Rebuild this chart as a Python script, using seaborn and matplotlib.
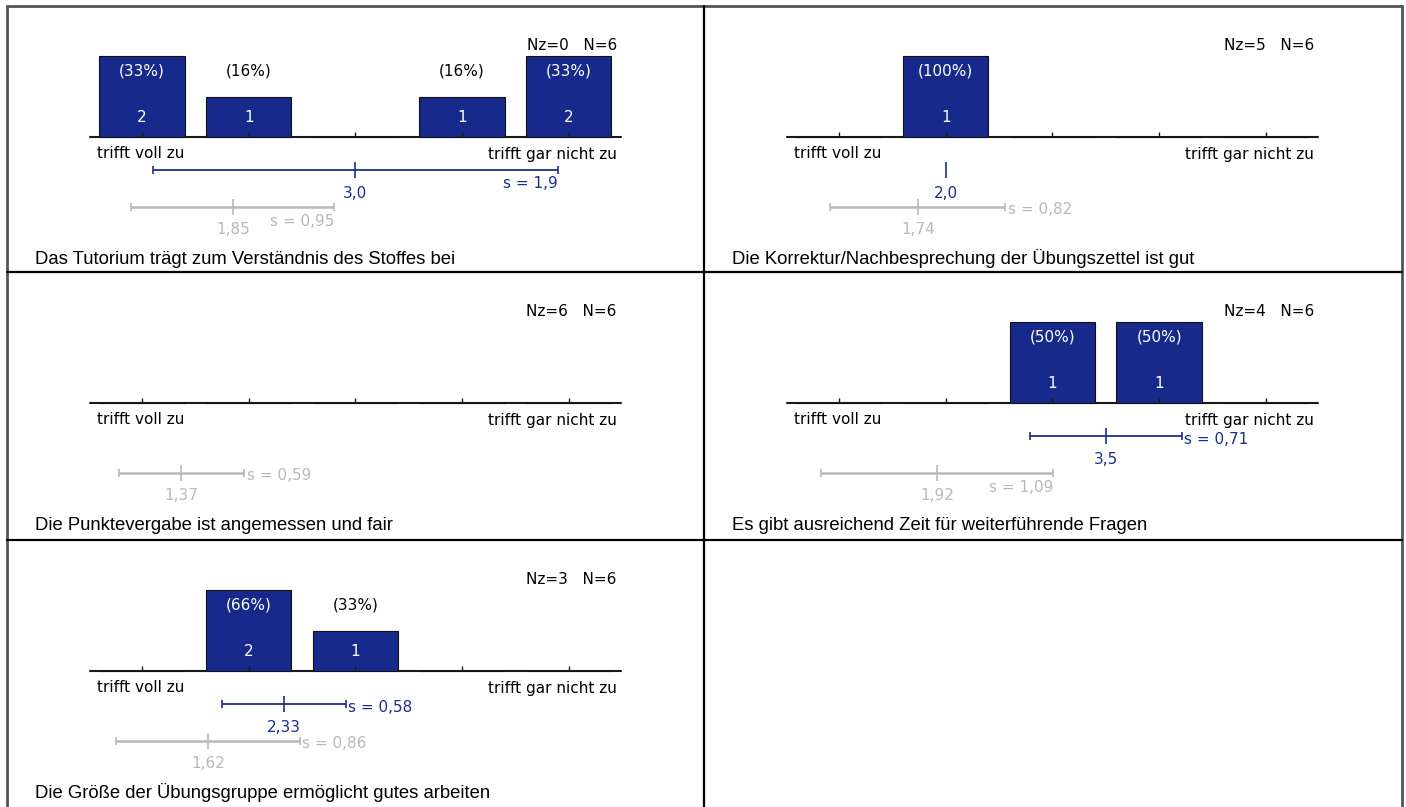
import numpy as np
import pandas as pd
import matplotlib.pyplot as plt
import seaborn as sns

# answer categories (1 = trifft voll zu ... 5 = trifft gar nicht zu)
categories = [1, 2, 3, 4, 5]
titles = [
    'Das Tutorium trägt zum Verständnis des Stoffes bei',
    'Die Korrektur/Nachbesprechung der Übungszettel ist gut',
    'Die Punktevergabe ist angemessen und fair',
    'Es gibt ausreichend Zeit für weiterführende Fragen',
    'Die Größe der Übungsgruppe ermöglicht gutes arbeiten',
]
counts = [
    [2, 1, 0, 1, 2],
    [0, 1, 0, 0, 0],
    [0, 0, 0, 0, 0],
    [0, 0, 1, 1, 0],
    [0, 2, 1, 0, 0],
]
n_missing = [0, 5, 6, 4, 3]
n_total = [6, 6, 6, 6, 6]
mean_blue = [3.0, 2.0, None, 3.5, 2.33]
sd_blue = [1.9, None, None, 0.71, 0.58]
mean_grey = [1.85, 1.74, 1.37, 1.92, 1.62]
sd_grey = [0.95, 0.82, 0.59, 1.09, 0.86]
left_label = 'trifft voll zu'
right_label = 'trifft gar nicht zu'

BAR = '#172a8b'
BLUE = '#1d2d8f'
GREY = '#b9b9b9'
FS = 11

# layout in pixels
W, H = 1406, 807
col_x = [7, 704]
col_w = [697, 698]
row_top = [6, 272, 540]
row_bot = [272, 540, 807]
BASE = 131      # baseline below top of cell
X0 = 135        # centre of first category from cell left
STEP = 106.7    # pixels per category
BAR_H = 81      # height of the tallest bar

sns.set_style('white')
plt.rcParams['font.family'] = ['DejaVu Sans']
plt.rcParams['text.color'] = 'black'

fig = plt.figure(figsize=(W / 100, H / 100), dpi=100)


def fmt(v):
    s = f'{v:.2f}'
    if s.endswith('0'):
        s = s[:-1]
    return s.replace('.', ',')


def draw_stat(ax, mean, sd, y, color, lw, other_mean=None):
    xm = mean - 1
    if sd:
        ax.plot([xm - sd, xm + sd], [y, y], color=color, lw=lw, solid_capstyle='butt')
        ax.vlines([xm - sd, xm + sd], y - 4, y + 4, color=color, lw=1.2)
    ax.vlines(xm, y - 8, y + 8, color=color, lw=1.2)
    ax.text(xm, y - 23, fmt(mean), ha='center', va='center', color=color, fontsize=FS)
    if sd:
        right = mean + sd
        below = right + 0.65 > 5.5
        if other_mean is not None and right < other_mean < right + 0.75:
            below = True
        if below:
            ax.text(xm + sd, y - 14, f's = {fmt(sd)}', ha='right', va='center', color=color, fontsize=FS)
        else:
            ax.text(xm + sd + 0.02, y - 3, f's = {fmt(sd)}', ha='left', va='center', color=color, fontsize=FS)


for i in range(len(titles)):
    r, c = divmod(i, 2)
    left, width = col_x[c], col_w[c]
    top, bot = row_top[r], row_bot[r]
    ax = fig.add_axes([left / W, 1 - bot / H, width / W, (bot - top) / H])

    cnt = np.array(counts[i])
    valid = cnt.sum()
    heights = cnt / max(cnt.max(), 1) * BAR_H
    df = pd.DataFrame({'cat': categories, 'h': heights})
    sns.barplot(data=df, x='cat', y='h', order=categories, color=BAR, saturation=1,
                width=0.8, edgecolor='#111111', linewidth=0.8, ax=ax, zorder=2)

    n = len(categories)
    ax.plot([-0.49, n - 1 + 0.49], [0, 0], color='#1a1a1a', lw=1.5, zorder=1)
    ax.vlines(range(n), 0, 5, color='#1a1a1a', lw=1, zorder=3)

    for j, cv in enumerate(cnt):
        if cv > 0:
            pct = int(100 * cv / valid)
            col = 'white' if heights[j] > 74 else 'black'
            ax.text(j, 66, f'({pct}%)', ha='center', va='center', color=col, fontsize=FS, zorder=4)
            ax.text(j, 19, str(cv), ha='center', va='center', color='white', fontsize=FS, zorder=4)

    ax.text(4.45, 92, f'Nz={n_missing[i]}   N={n_total[i]}', ha='right', va='center', fontsize=FS)
    ax.text(-0.42, -17, left_label, ha='left', va='center', fontsize=FS)
    ax.text(4.45, -17, right_label, ha='right', va='center', fontsize=FS)

    if mean_blue[i] is not None:
        draw_stat(ax, mean_blue[i], sd_blue[i], -33, BLUE, 1.3)
    draw_stat(ax, mean_grey[i], sd_grey[i], -70, GREY, 1.8, other_mean=mean_blue[i])

    ax.text(-1.0, -122, titles[i], ha='left', va='center', fontsize=13.3,
            family=['Liberation Sans', 'DejaVu Sans'])

    ax.set_xlim(-X0 / STEP, (width - X0) / STEP)
    ax.set_ylim(-(bot - top - BASE), BASE)
    ax.axis('off')

# frame around the cells
bg = fig.add_axes([0, 0, 1, 1], zorder=-1)
bg.set_xlim(0, W)
bg.set_ylim(H, 0)
bg.axis('off')
frame = '#555555'
bg.plot([col_x[0], col_x[1] + col_w[1]], [row_top[0], row_top[0]], color=frame, lw=2)
bg.plot([col_x[0], col_x[0]], [row_top[0], H], color=frame, lw=2)
bg.plot([col_x[1] + col_w[1], col_x[1] + col_w[1]], [row_top[0], H], color=frame, lw=2)
bg.plot([col_x[1], col_x[1]], [row_top[0], H], color='black', lw=1.6)
for yy in row_top[1:]:
    bg.plot([col_x[0], col_x[1] + col_w[1]], [yy, yy], color='black', lw=1.6)

fig.savefig('out.png', dpi=100)
